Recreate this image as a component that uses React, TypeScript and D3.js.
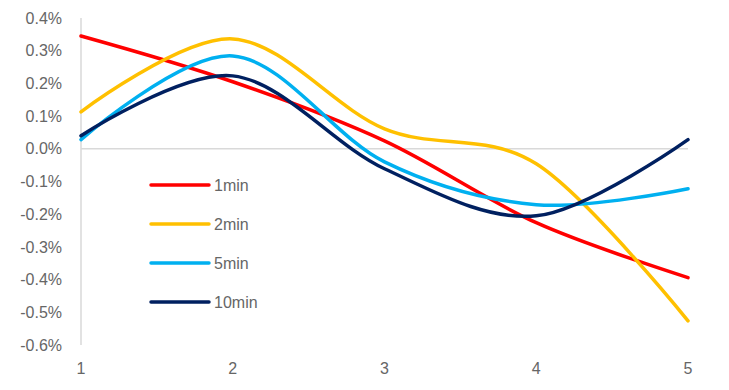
import * as d3 from "d3";

const xValues = [1, 2, 3, 4, 5];
const yTicks = [0.4, 0.3, 0.2, 0.1, 0, -0.1, -0.2, -0.3, -0.4, -0.5, -0.6];
const seriesNames = ["1min", "2min", "5min", "10min"];
const seriesColors = ["#FF0000", "#FFC000", "#00B0F0", "#002060"];
const min1 = [0.345, 0.205, 0.024, -0.226, -0.394];
const min2 = [0.113, 0.336, 0.061, -0.046, -0.526];
const min5 = [0.028, 0.284, -0.04, -0.171, -0.122];
const min10 = [0.04, 0.223, -0.061, -0.205, 0.028];
const seriesValues = [min1, min2, min5, min10];

export default function App() {
  const width = 729;
  const height = 390;
  const x = d3.scaleLinear().domain([1, 5]).range([81, 688]);
  const y = d3.scaleLinear().domain([-0.6, 0.4]).range([345, 18]);
  const line = d3
    .line<number>()
    .x((_, i) => x(xValues[i]))
    .y((d) => y(d))
    .curve(d3.curveCardinal.tension(0));

  const font = "Liberation Sans, Arial, Helvetica, sans-serif";

  return (
    <svg
      width={width}
      height={height}
      style={{ position: "absolute", left: 0, top: 0, background: "#fff" }}
    >
      {/* y axis labels */}
      {yTicks.map((t) => (
        <text
          key={t}
          x={62}
          y={y(t)}
          dy="0.35em"
          textAnchor="end"
          fontSize={16}
          fill="#666"
          fontFamily={font}
        >
          {`${t.toFixed(1)}%`}
        </text>
      ))}
      {/* x axis labels */}
      {xValues.map((v) => (
        <text
          key={v}
          x={x(v)}
          y={368}
          dy="0.35em"
          textAnchor="middle"
          fontSize={16}
          fill="#666"
          fontFamily={font}
        >
          {v}
        </text>
      ))}
      {/* axes */}
      <line x1={x(1)} x2={x(1)} y1={y(0.4)} y2={y(-0.6)} stroke="#d9d9d9" strokeWidth={1.5} />
      <line x1={x(1)} x2={x(5)} y1={y(0)} y2={y(0)} stroke="#d9d9d9" strokeWidth={1.5} />
      {/* series */}
      {seriesValues.map((vals, i) => (
        <path
          key={seriesNames[i]}
          d={line(vals) || ""}
          fill="none"
          stroke={seriesColors[i]}
          strokeWidth={3.5}
          strokeLinecap="round"
        />
      ))}
      {/* legend */}
      {seriesNames.map((name, i) => (
        <g key={name} transform={`translate(151, ${185 + i * 39})`}>
          <line x1={0} x2={58} y1={0} y2={0} stroke={seriesColors[i]} strokeWidth={3.5} strokeLinecap="round" />
          <text x={63} y={0} dy="0.35em" fontSize={16} fill="#666" fontFamily={font}>
            {name}
          </text>
        </g>
      ))}
    </svg>
  );
}
